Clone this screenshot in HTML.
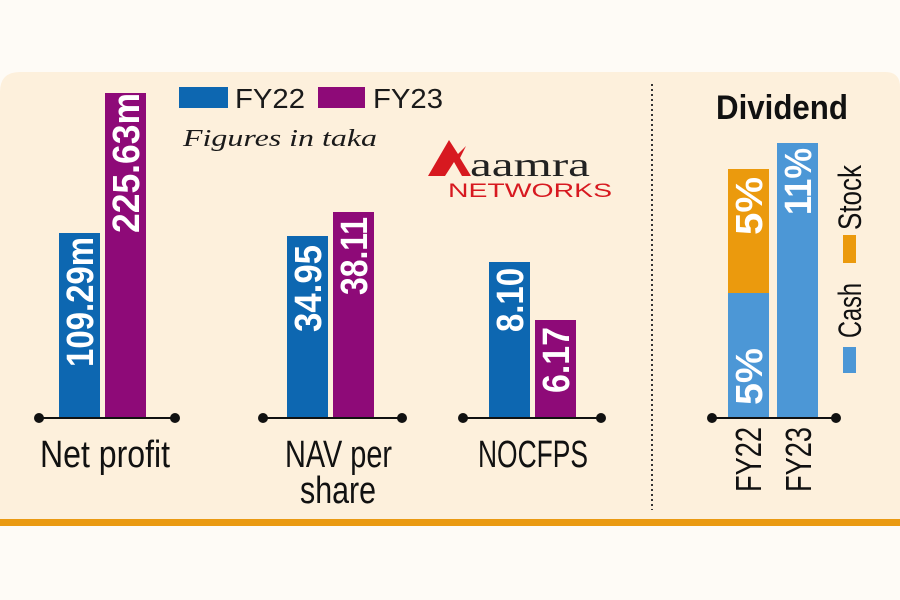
<!DOCTYPE html>
<html><head><meta charset="utf-8"><style>
html,body{margin:0;padding:0;background:#fff;}
svg{display:block}
.n{font-family:"Liberation Sans Narrow","Liberation Sans",sans-serif;}
</style></head><body>
<svg width="900" height="600" viewBox="0 0 900 600" xmlns="http://www.w3.org/2000/svg">
<rect x="0" y="0" width="900" height="600" fill="#fefbf6"/>
<path d="M0 72 H885 Q900 72 900 87 V520 H0 Z" fill="#fdf0dc"/>
<path d="M0 72 H20 Q0 72 0 92 Z" fill="#fefbf6"/>
<rect x="0" y="519" width="900" height="7" fill="#ea9a12"/>
<!-- legend -->
<rect x="179" y="87" width="49" height="21" fill="#0d67b1"/>
<text x="235" y="108" class="n" font-size="28" fill="#1a1a1a" textLength="70" lengthAdjust="spacingAndGlyphs">FY22</text>
<rect x="318" y="87" width="47" height="21" fill="#8e0a78"/>
<text x="373" y="108" class="n" font-size="28" fill="#1a1a1a" textLength="70" lengthAdjust="spacingAndGlyphs">FY23</text>
<text x="183" y="146" font-family="Liberation Serif,serif" font-style="italic" font-size="24" fill="#1a1a1a" textLength="194" lengthAdjust="spacingAndGlyphs">Figures in taka</text>
<!-- logo -->
<path d="M428 176 L449 140 L458 154 L466 146 L460 158 L471 176 L462 176 L454 162 L445 176 Z" fill="#d71920"/>
<text x="470" y="176" font-family="Liberation Serif,serif" font-size="34" fill="#222" textLength="120" lengthAdjust="spacingAndGlyphs">aamra</text>
<text x="448" y="197" class="n" font-size="19" fill="#d71920" textLength="164" lengthAdjust="spacingAndGlyphs">NETWORKS</text>
<!-- bars -->
<g class="n" font-weight="bold" fill="#fff" font-size="38">
<rect x="59" y="233" width="41" height="185" fill="#0d67b1"/>
<rect x="105" y="93" width="41" height="325" fill="#8e0a78"/>
<rect x="287" y="236" width="41" height="182" fill="#0d67b1"/>
<rect x="333" y="212" width="41" height="206" fill="#8e0a78"/>
<rect x="489" y="262" width="41" height="156" fill="#0d67b1"/>
<rect x="535" y="320" width="41" height="98" fill="#8e0a78"/>
<rect x="728" y="293" width="41" height="125" fill="#4c97d6"/>
<rect x="728" y="169" width="41" height="124" fill="#eb9a0d"/>
<rect x="777" y="143" width="41" height="275" fill="#4c97d6"/>
<text transform="translate(93,367) rotate(-90)" textLength="130" lengthAdjust="spacingAndGlyphs">109.29m</text>
<text transform="translate(139,233) rotate(-90)" textLength="140" lengthAdjust="spacingAndGlyphs">225.63m</text>
<text transform="translate(321,332) rotate(-90)" textLength="87" lengthAdjust="spacingAndGlyphs">34.95</text>
<text transform="translate(367,295) rotate(-90)" textLength="78" lengthAdjust="spacingAndGlyphs">38.11</text>
<text transform="translate(523,332) rotate(-90)" textLength="64" lengthAdjust="spacingAndGlyphs">8.10</text>
<text transform="translate(569,393) rotate(-90)" textLength="66" lengthAdjust="spacingAndGlyphs">6.17</text>
<text transform="translate(762,405) rotate(-90)" textLength="57" lengthAdjust="spacingAndGlyphs">5%</text>
<text transform="translate(762,235) rotate(-90)" textLength="58" lengthAdjust="spacingAndGlyphs">5%</text>
<text transform="translate(811,215) rotate(-90)" textLength="67" lengthAdjust="spacingAndGlyphs">11%</text>
</g>
<!-- axes -->
<g stroke="#111" stroke-width="2">
<line x1="39" y1="418" x2="175" y2="418"/>
<line x1="263" y1="418" x2="402" y2="418"/>
<line x1="463" y1="418" x2="601" y2="418"/>
<line x1="712" y1="418" x2="836" y2="418"/>
</g>
<g fill="#111">
<circle cx="39" cy="418" r="5"/><circle cx="175" cy="418" r="5"/>
<circle cx="263" cy="418" r="5"/><circle cx="402" cy="418" r="5"/>
<circle cx="463" cy="418" r="5"/><circle cx="601" cy="418" r="5"/>
<circle cx="712" cy="418" r="5"/><circle cx="836" cy="418" r="5"/>
</g>
<line x1="652" y1="84" x2="652" y2="510" stroke="#333" stroke-width="2" stroke-dasharray="2,3"/>
<!-- labels -->
<g class="n" font-size="38" fill="#111">
<text x="40" y="467" textLength="130" lengthAdjust="spacingAndGlyphs">Net profit</text>
<text x="285" y="467" textLength="107" lengthAdjust="spacingAndGlyphs">NAV per</text>
<text x="300" y="503" textLength="76" lengthAdjust="spacingAndGlyphs">share</text>
<text x="478" y="467" textLength="110" lengthAdjust="spacingAndGlyphs">NOCFPS</text>
</g>
<text x="716" y="119" class="n" font-weight="bold" font-size="34" fill="#111" textLength="132" lengthAdjust="spacingAndGlyphs">Dividend</text>
<g class="n" font-size="36" fill="#111">
<text transform="translate(761,492) rotate(-90)" textLength="65" lengthAdjust="spacingAndGlyphs">FY22</text>
<text transform="translate(811,492) rotate(-90)" textLength="65" lengthAdjust="spacingAndGlyphs">FY23</text>
</g>
<rect x="843" y="347" width="13" height="26" fill="#4c97d6"/>
<rect x="843" y="235" width="13" height="28" fill="#eb9a0d"/>
<g class="n" font-size="32" fill="#111">
<text transform="translate(861,338) rotate(-90)" textLength="55" lengthAdjust="spacingAndGlyphs">Cash</text>
<text transform="translate(861,230) rotate(-90)" textLength="65" lengthAdjust="spacingAndGlyphs">Stock</text>
</g>
</svg>
</body></html>
